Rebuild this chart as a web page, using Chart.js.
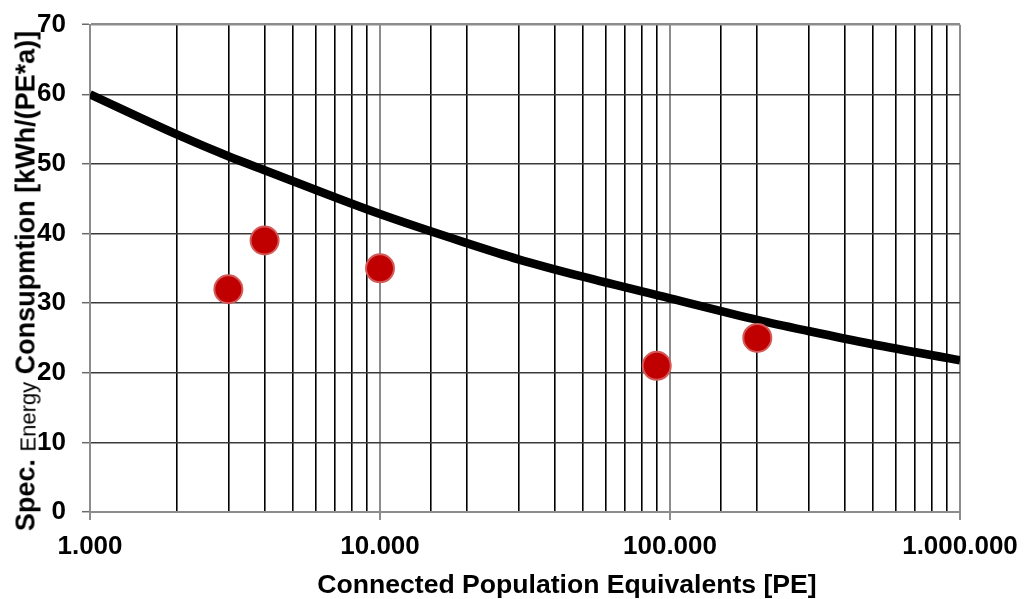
<!DOCTYPE html>
<html>
<head>
<meta charset="utf-8">
<script src="https://cdn.jsdelivr.net/npm/chart.js@4/dist/chart.umd.min.js"></script>
<style>
  html, body { margin: 0; padding: 0; background: #fff; }
  #wrap { position: relative; width: 1026px; height: 599px; overflow: hidden; }
  #c { position: absolute; left: 0; top: 0; }
  .ttl { position: absolute; font-family: "Liberation Sans", Arial, sans-serif; font-weight: bold; color: #000; white-space: nowrap; line-height: 1; }
  #xtitle { font-size: 26.6px; left: 567px; top: 584px; transform: translate(-50%, -50%); }
  #ytitle { font-size: 27px; left: 26px; top: 280.5px; transform: translate(-50%, -50%) rotate(-90deg); }
  #ytitle .sub { font-weight: normal; font-size: 22px; position: relative; top: 1px; }
</style>
</head>
<body>
<div id="wrap">
  <canvas id="c" width="1026" height="599"></canvas>
  <div class="ttl" id="ytitle">Spec. <span class="sub">Energy</span> Consupmtion [kWh/(PE*a)]</div>
  <div class="ttl" id="xtitle">Connected Population Equivalents [PE]</div>
</div>
<script>
// Reference curve (specific energy consumption vs. connected PE)
const curveX = [1000, 2000, 3000, 4000, 10000, 20000, 30000, 50000, 100000, 200000, 300000, 500000, 1000000];
const curveY = [60, 54.2, 51.1, 49.1, 42.8, 38.6, 36.3, 33.8, 30.7, 27.6, 26.0, 24.1, 21.8];
// Measured plants
const plantX = [3000, 4000, 10000, 90000, 200000];
const plantY = [32, 39, 35, 21, 25];
// Axis ranges / ticks
const xMin = 1000, xMax = 1000000;
const yMin = 0, yMax = 70, yStep = 10;

const FONT = "'Liberation Sans', Arial, sans-serif";
const isDecade = v => { const l = Math.log10(v); return Math.abs(l - Math.round(l)) < 1e-9; };
const fmt = v => String(Math.round(v)).replace(/\B(?=(\d{3})+(?!\d))/g, '.');
const noPad = s => { s.paddingTop = 0; s.paddingBottom = 0; s.paddingLeft = 0; s.paddingRight = 0; };

new Chart(document.getElementById('c'), {
  type: 'scatter',
  data: {
    datasets: [
      {
        label: 'Plants',
        data: plantX.map((x, i) => ({ x, y: plantY[i] })),
        backgroundColor: '#C00000',
        borderColor: '#D45A5A',
        borderWidth: 2,
        pointRadius: 14,
        order: 0
      },
      {
        label: 'Curve',
        type: 'line',
        data: curveX.map((x, i) => ({ x, y: curveY[i] })),
        borderColor: '#000',
        borderWidth: 8.5,
        pointRadius: 0,
        fill: false,
        cubicInterpolationMode: 'monotone',
        order: 1
      }
    ]
  },
  options: {
    responsive: false,
    animation: false,
    events: [],
    layout: { padding: { top: 24.7, right: 66, left: 0, bottom: 0 } },
    plugins: { legend: { display: false }, tooltip: { enabled: false } },
    scales: {
      x: {
        type: 'logarithmic',
        min: xMin, max: xMax,
        afterFit: s => { s.height = 87; noPad(s); },
        border: { color: '#8c8c8c', width: 2 },
        grid: {
          color: c => isDecade(c.tick.value) ? '#8c8c8c' : '#000',
          lineWidth: c => isDecade(c.tick.value) ? 2 : 1.6,
          tickLength: 8,
          tickColor: c => isDecade(c.tick.value) ? '#8c8c8c' : 'rgba(0,0,0,0)',
          tickWidth: 2
        },
        ticks: {
          autoSkip: false,
          maxRotation: 0,
          padding: 11,
          color: '#000',
          font: { family: FONT, size: 26, weight: 'bold' },
          callback: v => isDecade(v) ? fmt(v) : ''
        }
      },
      y: {
        min: yMin, max: yMax,
        afterFit: s => { s.width = 90; noPad(s); },
        border: { color: '#8c8c8c', width: 2 },
        grid: {
          color: c => c.tick.value === yMax ? '#8c8c8c' : '#3a3a3a',
          lineWidth: c => c.tick.value === yMax ? 2.5 : 1.4,
          tickLength: 8,
          tickColor: '#6a6a6a',
          tickWidth: 1.5
        },
        ticks: {
          stepSize: yStep,
          padding: 16,
          color: '#000',
          font: { family: FONT, size: 26, weight: 'bold' }
        }
      }
    }
  }
});
</script>
</body>
</html>
